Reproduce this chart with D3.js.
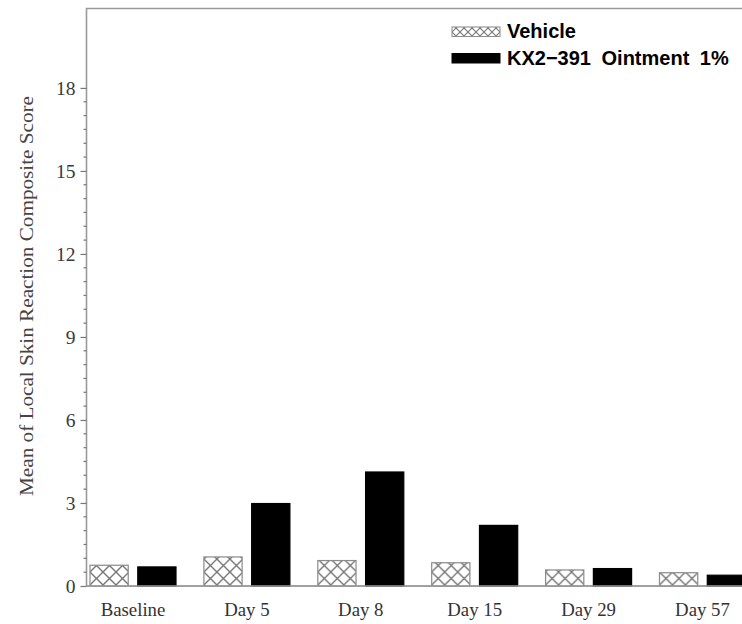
<!DOCTYPE html>
<html>
<head>
<meta charset="utf-8">
<script src="https://cdn.jsdelivr.net/npm/d3@7"></script>
<style>
  html, body { margin: 0; padding: 0; background: #fff; }
  svg { display: block; }
</style>
</head>
<body>
<svg id="chart" width="742" height="624"></svg>
<script>
// Visits along the x axis
const categories = ["Baseline", "Day 5", "Day 8", "Day 15", "Day 29", "Day 57"];
// Treatment groups, in legend order
const seriesNames = ["Vehicle", "KX2\u2212391 Ointment 1%"];
// Mean composite scores per visit
const vehicleValues = [0.75, 1.05, 0.92, 0.84, 0.58, 0.48];
const ointmentValues = [0.69, 2.98, 4.12, 2.19, 0.63, 0.39];
// Labelled y ticks
const yTickValues = [0, 3, 6, 9, 12, 15, 18];
const yMax = 20.87;
const yTitle = "Mean of Local Skin Reaction Composite Score";

const svg = d3.select("#chart");
const axisColor = "#9a9a9a";
const serif = "'Liberation Serif', 'Times New Roman', serif";

const plot = { left: 86.5, top: 8.5, bottom: 586, right: 760 };

const y = d3.scaleLinear().domain([0, yMax]).range([plot.bottom, plot.top]);

const x0 = d3.scaleBand()
  .domain(categories)
  .range([90, 90 + 655.5])
  .paddingInner(0.245)
  .paddingOuter(0);

const x1 = d3.scaleBand()
  .domain(seriesNames)
  .range([0, x0.bandwidth()])
  .paddingInner(0.2);

// Cross-hatch fill for the vehicle bars
const defs = svg.append("defs");
function hatch(id, s, sw) {
  const p = defs.append("pattern")
    .attr("id", id)
    .attr("patternUnits", "userSpaceOnUse")
    .attr("width", s).attr("height", s);
  p.append("rect").attr("width", s).attr("height", s).attr("fill", "#fff");
  p.append("path")
    .attr("d", `M0,0 L${s},${s} M${s},0 L0,${s}`)
    .attr("stroke", "#777").attr("stroke-width", sw).attr("fill", "none");
}
hatch("xhatch", 13, 1.4);
hatch("xhatchSmall", 8, 1.1);

// Frame (top and left edges visible; right side runs off the page)
svg.append("path")
  .attr("d", `M${plot.right},${plot.top} H${plot.left} V${plot.bottom} H${plot.right}`)
  .attr("fill", "none").attr("stroke", axisColor).attr("stroke-width", 1.6);

// Bars
const rows = categories.map((c, i) => ({ cat: c, vals: [vehicleValues[i], ointmentValues[i]] }));
const groups = svg.append("g").selectAll("g").data(rows).join("g")
  .attr("transform", d => `translate(${x0(d.cat)},0)`);

groups.selectAll("rect")
  .data(d => d.vals.map((v, j) => ({ key: seriesNames[j], v, j })))
  .join("rect")
  .attr("x", d => x1(d.key))
  .attr("width", x1.bandwidth())
  .attr("y", d => y(d.v))
  .attr("height", d => y(0) - y(d.v))
  .attr("fill", d => d.j === 0 ? "url(#xhatch)" : "#000")
  .attr("stroke", d => d.j === 0 ? "#8a8a8a" : "#000")
  .attr("stroke-width", 1.2);

// Redraw baseline over bar bottoms
svg.append("line")
  .attr("x1", plot.left).attr("x2", plot.right)
  .attr("y1", plot.bottom).attr("y2", plot.bottom)
  .attr("stroke", axisColor).attr("stroke-width", 1.6);

// Y axis: major ticks with labels, minor ticks every 0.5
const yAxis = d3.axisLeft(y)
  .tickValues(yTickValues)
  .tickSize(6)
  .tickPadding(5)
  .tickFormat(d3.format("d"));
const gy = svg.append("g")
  .attr("transform", `translate(${plot.left},0)`)
  .call(yAxis);
gy.select(".domain").remove();
gy.selectAll(".tick line").attr("stroke", "#777").attr("stroke-width", 1.2);
gy.selectAll(".tick text")
  .attr("font-family", serif)
  .attr("font-size", 19.5)
  .attr("fill", "#3a3a3a");

const minor = d3.range(0, 18.01, 0.5).filter(v => v % 3 !== 0);
svg.append("g").selectAll("line").data(minor).join("line")
  .attr("x1", plot.left - 3).attr("x2", plot.left)
  .attr("y1", d => y(d)).attr("y2", d => y(d))
  .attr("stroke", "#777").attr("stroke-width", 1.2);

// X axis labels
const xAxis = d3.axisBottom(x0).tickSize(0).tickPadding(17);
const gx = svg.append("g")
  .attr("transform", `translate(0,${plot.bottom})`)
  .call(xAxis);
gx.select(".domain").remove();
gx.selectAll(".tick text")
  .attr("font-family", serif)
  .attr("font-size", 18.8)
  .attr("fill", "#333");

// Y axis title
svg.append("text")
  .attr("transform", `translate(33,296) rotate(-90)`)
  .attr("text-anchor", "middle")
  .attr("font-family", serif)
  .attr("font-size", 19.5)
  .attr("textLength", 400)
  .attr("lengthAdjust", "spacingAndGlyphs")
  .attr("fill", "#444")
  .text(yTitle);

// Legend
const legend = svg.append("g").attr("transform", "translate(452,0)");
const legendRows = [
  { name: seriesNames[0], fill: "url(#xhatchSmall)", stroke: "#8a8a8a", y: 27, ty: 37.5 },
  { name: seriesNames[1], fill: "#000", stroke: "#000", y: 53.5, ty: 64.5 }
];
legendRows.forEach(r => {
  legend.append("rect")
    .attr("x", 0).attr("y", r.y).attr("width", 48).attr("height", 9.5)
    .attr("fill", r.fill).attr("stroke", r.stroke).attr("stroke-width", 1);
  legend.append("text")
    .attr("x", 55).attr("y", r.ty)
    .attr("font-family", "'Liberation Sans', Arial, sans-serif")
    .attr("font-weight", "bold")
    .attr("font-size", 20)
    .attr("fill", "#000")
    .attr("word-spacing", 5)
    .text(r.name);
});
</script>
</body>
</html>
